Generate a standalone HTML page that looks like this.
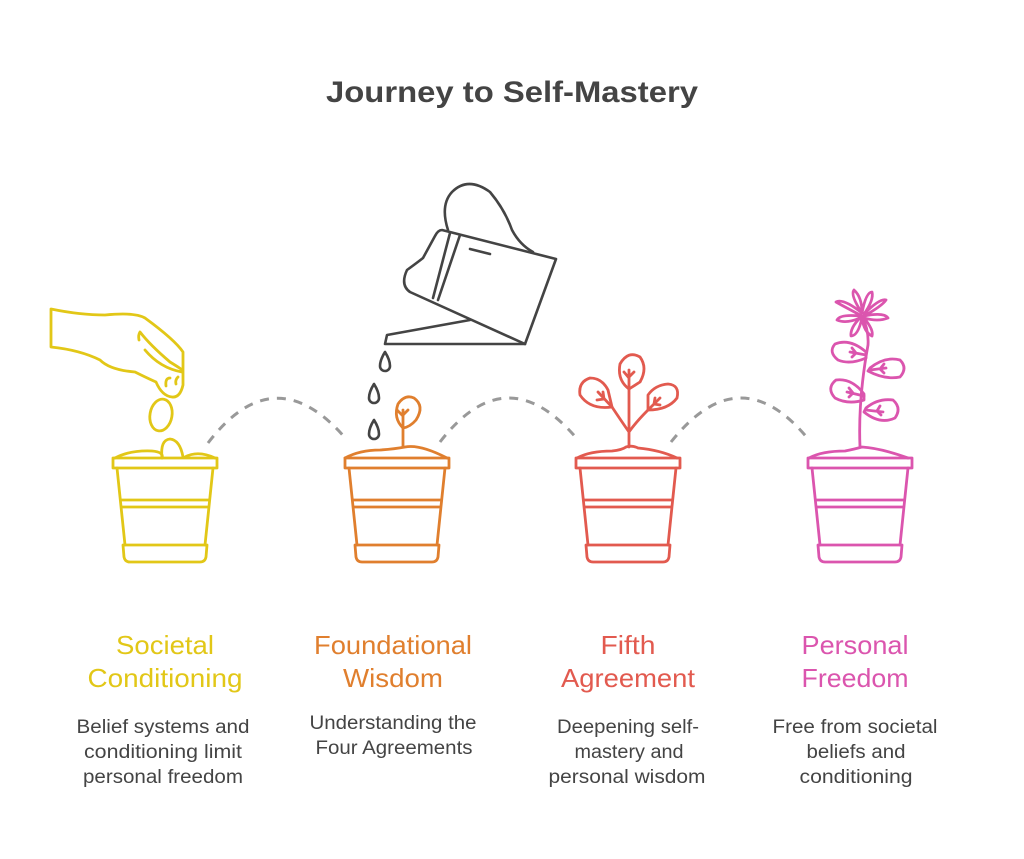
<!DOCTYPE html>
<html><head><meta charset="utf-8"><style>
html,body{margin:0;padding:0;background:#fff;}
svg{display:block;}
text{font-family:"Liberation Sans",sans-serif;}
</style></head><body>
<svg width="1024" height="859" viewBox="0 0 1024 859" xmlns="http://www.w3.org/2000/svg">
<defs>
<g id="pot" fill="none" stroke-width="2.8" stroke-linejoin="round" stroke-linecap="round">
  <rect x="-52" y="458" width="104" height="10"/>
  <path d="M-48 468 L-40 545 M48 468 L40 545"/>
  <path d="M-44 500 H44 M-43 507 H43"/>
  <path d="M-42 545 H42 L41 557 Q40 562 35 562 H-35 Q-40 562 -41 557 Z"/>
</g>
</defs>
<text x="512" y="102" text-anchor="middle" font-size="30" font-weight="bold" fill="#444" textLength="372" lengthAdjust="spacingAndGlyphs">Journey to Self-Mastery</text>

<g fill="none" stroke="#999" stroke-width="3" stroke-dasharray="9,8">
<path d="M208 443 Q275 355 347 440"/>
<path d="M440 442 Q507 355 578 440"/>
<path d="M671 442 Q740 355 809 440"/>
</g>

<g stroke="#E2C717" fill="none" stroke-width="2.8" stroke-linecap="round" stroke-linejoin="round">
<use href="#pot" x="165" y="0"/>
<path d="M115 458 Q130 450 152 451 Q164 452 162 458"/>
<path d="M185 457 Q198 450 215 458"/>
<path d="M162 458 Q160 440 170 439 Q180 440 183 457"/>
<ellipse cx="161" cy="415" rx="11" ry="16" transform="rotate(10 161 415)"/>
<path d="M51 309 Q80 315 105 315 Q135 312 145 318 Q175 340 183 352 V385 Q180 398 172 397 Q162 396 156 382 Q147 378 135 372 Q110 370 100 360 Q80 350 51 347 Z"/>
<path d="M139 340 Q138 335 140 332 Q150 345 170 362 Q183 370 182 370"/>
<path d="M145 350 Q160 368 182 372"/>
<path d="M166 386 Q165 378 170 378 M176 384 Q175 380 178 377"/>
</g>

<g stroke="#E07F2E" fill="none" stroke-width="2.8" stroke-linecap="round" stroke-linejoin="round">
<use href="#pot" x="397" y="0"/>
<path d="M345 458 Q360 450 380 450 Q395 449 405 447 Q420 444 447 458"/>
<path d="M403 447 V428"/>
<path d="M403 428 Q393 418 398 404 Q405 394 414 398 Q425 406 416 420 Q410 427 403 428 Z"/>
<path d="M403 428 V410 M403 416 L397 410 M403 415 L408 410"/>
</g>

<g stroke="#444" fill="none" stroke-width="2.6" stroke-linejoin="round" stroke-linecap="round">
<path d="M442 230 L556 259 L525 344 L410 292 Q400 285 407 270 Q418 262 423 258 L435 236 Q438 230 442 230 Z"/>
<path d="M450 233 L433 298 M460 235 L438 300"/>
<path d="M470 249 L490 254"/>
<path d="M448 230 Q440 205 452 192 Q468 176 490 192 Q505 210 512 230 Q520 245 533 252"/>
<path d="M470 320 L387 335 L385 344 L525 344"/>
<path d="M385 352 Q380 360 380 366 A5 5 0 0 0 390 366 Q390 360 385 352 Z"/>
<path d="M374 384 Q369 392 369 398 A5 5 0 0 0 379 398 Q379 392 374 384 Z"/>
<path d="M374 420 Q369 428 369 434 A5 5 0 0 0 379 434 Q379 428 374 420 Z"/>
</g>

<g stroke="#E25A4F" fill="none" stroke-width="2.8" stroke-linecap="round" stroke-linejoin="round">
<use href="#pot" x="628" y="0"/>
<path d="M577 458 Q590 451 612 451 Q622 450 626 447 Q632 445 638 448 Q660 450 677 458"/>
<path d="M629 447 V389 M629 432 Q622 422 612 407 M629 432 Q636 422 648 410"/>
<path d="M629 389 Q617 380 620 364 Q628 350 640 357 Q648 368 640 382 Z"/>
<path d="M629 389 V370 M629 378 L624 372 M629 377 L634 372"/>
<path d="M612 407 Q590 410 580 395 Q578 382 590 378 Q602 378 608 390 Z"/>
<path d="M612 407 L598 392 M604 399 L597 400 M604 399 L603 392"/>
<path d="M648 410 Q668 410 677 398 Q680 385 668 384 Q655 385 648 395 Z"/>
<path d="M648 410 L660 398 M654 404 L660 405 M654 404 L655 398"/>
</g>

<g stroke="#DB55AE" fill="none" stroke-width="2.8" stroke-linecap="round" stroke-linejoin="round">
<use href="#pot" x="860" y="0"/>
<path d="M809 458 Q822 451 845 451 Q855 449 862 447 Q880 448 908 458"/>
<path d="M860 447 Q858 400 868 345 Q869 330 862 316"/>
<path d="M862 316 Q843 306 836 302 Q843 298 862 313 Q850 295 854 290 Q862 297 862 313 Q866 292 872 292 Q874 300 864 314 Q880 298 886 300 Q882 306 864 316 Q884 312 888 318 Q878 322 864 318 Q874 330 872 336 Q864 332 862 318 Q858 336 851 336 Q850 328 860 318 Q846 324 837 320 Q840 314 860 316"/>
<path d="M866 358 Q850 365 838 360 Q828 352 835 344 Q850 338 866 352 Z"/>
<path d="M866 355 L850 352 M856 353 L852 348 M856 353 L852 357"/>
<path d="M868 371 Q885 380 900 377 Q908 368 900 360 Q885 356 870 368 Z"/>
<path d="M870 370 L886 368 M880 369 L884 364 M880 369 L884 373"/>
<path d="M864 400 Q848 405 835 398 Q826 388 836 380 Q852 378 864 394 Z"/>
<path d="M864 396 L847 392 M853 393 L849 388 M853 393 L849 397"/>
<path d="M864 412 Q880 425 895 418 Q902 408 893 400 Q878 398 866 408 Z"/>
<path d="M866 410 L883 412 M877 411 L880 406 M877 411 L881 415"/>
</g>

<g font-size="26" text-anchor="middle" lengthAdjust="spacingAndGlyphs">
<text x="165" y="654" fill="#E2C717" textLength="98" lengthAdjust="spacingAndGlyphs">Societal</text>
<text x="165" y="687" fill="#E2C717" textLength="155" lengthAdjust="spacingAndGlyphs">Conditioning</text>
<text x="393" y="654" fill="#E07F2E" textLength="158" lengthAdjust="spacingAndGlyphs">Foundational</text>
<text x="393" y="687" fill="#E07F2E" textLength="100" lengthAdjust="spacingAndGlyphs">Wisdom</text>
<text x="628" y="654" fill="#E25A4F" textLength="55" lengthAdjust="spacingAndGlyphs">Fifth</text>
<text x="628" y="687" fill="#E25A4F" textLength="134" lengthAdjust="spacingAndGlyphs">Agreement</text>
<text x="855" y="654" fill="#DB55AE" textLength="107" lengthAdjust="spacingAndGlyphs">Personal</text>
<text x="855" y="687" fill="#DB55AE" textLength="107" lengthAdjust="spacingAndGlyphs">Freedom</text>
</g>
<g font-size="19" text-anchor="middle" fill="#444">
<text x="163" y="733" textLength="173" lengthAdjust="spacingAndGlyphs">Belief systems and</text>
<text x="163" y="758" textLength="158" lengthAdjust="spacingAndGlyphs">conditioning limit</text>
<text x="163" y="783" textLength="160" lengthAdjust="spacingAndGlyphs">personal freedom</text>
<text x="393" y="729" textLength="167" lengthAdjust="spacingAndGlyphs">Understanding the</text>
<text x="394" y="754" textLength="157" lengthAdjust="spacingAndGlyphs">Four Agreements</text>
<text x="628" y="733" textLength="142" lengthAdjust="spacingAndGlyphs">Deepening self-</text>
<text x="629" y="758" textLength="109" lengthAdjust="spacingAndGlyphs">mastery and</text>
<text x="627" y="783" textLength="157" lengthAdjust="spacingAndGlyphs">personal wisdom</text>
<text x="855" y="733" textLength="165" lengthAdjust="spacingAndGlyphs">Free from societal</text>
<text x="856" y="758" textLength="99" lengthAdjust="spacingAndGlyphs">beliefs and</text>
<text x="856" y="783" textLength="113" lengthAdjust="spacingAndGlyphs">conditioning</text>
</g>
</svg>
</body></html>
